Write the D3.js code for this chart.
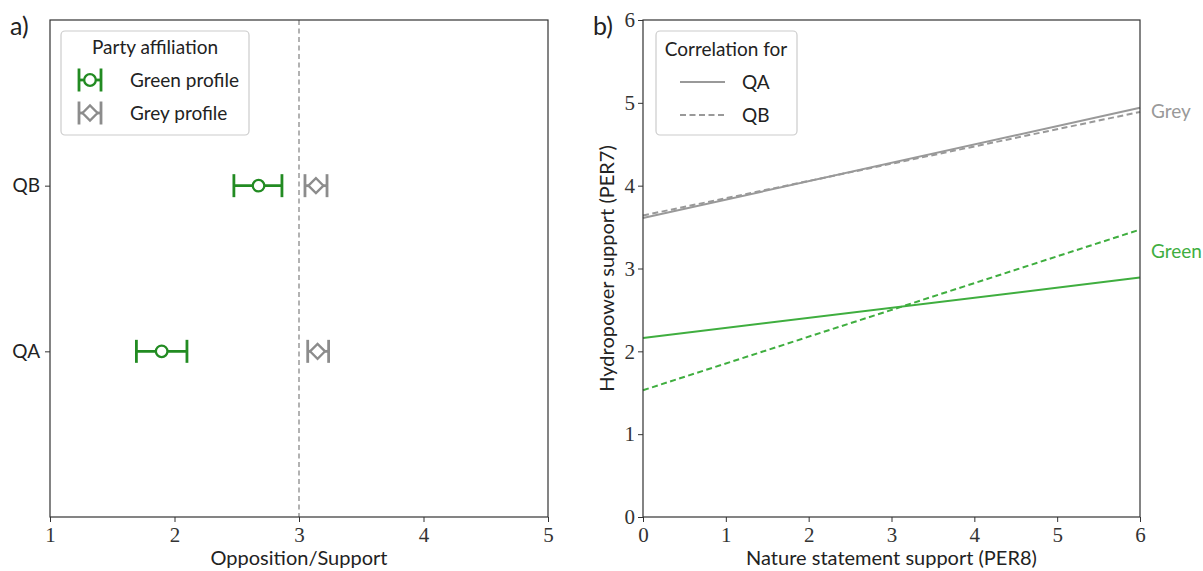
<!DOCTYPE html>
<html><head><meta charset="utf-8">
<script src="https://cdn.jsdelivr.net/npm/d3@7"></script>
<style>
body{margin:0;background:#fff;}
svg text{fill:#222;}
.sans{font-family:Lato,"DejaVu Sans",sans-serif;}
.serif{font-family:"Liberation Serif","DejaVu Serif",serif;}
</style></head><body>
<svg id="c" width="1203" height="571"></svg>
<script>
// ---- data ----
const questions = ["QA","QB"];
const profiles = ["Green profile","Grey profile"];
const greenMean = [1.897, 2.675];
const greenLow  = [1.694, 2.477];
const greenHigh = [2.100, 2.863];
const greyMean  = [3.149, 3.136];
const greyLow   = [3.070, 3.048];
const greyHigh  = [3.238, 3.225];
const leftTicks = [1,2,3,4,5];
const neutral = 3;

const lineX = [0, 6];
const greenQA = [2.16, 2.89];
const greenQB = [1.53, 3.47];
const greyQA  = [3.61, 4.94];
const greyQB  = [3.64, 4.89];
const rightXTicks = [0,1,2,3,4,5,6];
const rightYTicks = [0,1,2,3,4,5,6];

const svg = d3.select("#c");
const darkGreen = "#228b22", lightGreen = "#3fae3f", greyC = "#8c8c8c", greyL = "#999999";
const axisColor = "#333";

function styleAxis(g){
  g.selectAll("path.domain").remove();
  g.selectAll(".tick line").attr("stroke",axisColor).attr("stroke-width",1);
  g.selectAll(".tick text").attr("class","serif").style("font-size","21px").style("fill","#333");
}

// ---- Panel a ----
const L = {x0:50, x1:548, y0:20, y1:517};
const xa = d3.scaleLinear().domain([1,5]).range([L.x0,L.x1]);
const ya = d3.scaleLinear().domain([-1,2]).range([L.y1,L.y0]);
const ga = svg.append("g");

ga.append("line").attr("x1",xa(neutral)).attr("x2",xa(neutral)).attr("y1",L.y0).attr("y2",L.y1)
  .attr("stroke","#999").attr("stroke-width",1.5).attr("stroke-dasharray","5,3.5");

const axB = ga.append("g").attr("transform",`translate(0,${L.y1})`).call(d3.axisBottom(xa).tickValues(leftTicks).tickFormat(d3.format("d")).tickSize(5).tickPadding(5));
styleAxis(axB);
const axL = ga.append("g").attr("transform",`translate(${L.x0},0)`).call(d3.axisLeft(ya).tickValues([0,1]).tickFormat(i=>questions[i]).tickSize(5).tickPadding(5));
styleAxis(axL);
axL.selectAll(".tick text").attr("class","sans").style("font-size","19px").style("fill","#222");
ga.append("rect").attr("x",L.x0).attr("y",L.y0).attr("width",L.x1-L.x0).attr("height",L.y1-L.y0)
  .attr("fill","none").attr("stroke",axisColor).attr("stroke-width",1.2);

function errbar(g, xs, y, lo, hi, color, sw, cap){
  g.append("line").attr("x1",xs(lo)).attr("x2",xs(hi)).attr("y1",y).attr("y2",y).attr("stroke",color).attr("stroke-width",sw);
  [lo,hi].forEach(v=>g.append("line").attr("x1",xs(v)).attr("x2",xs(v)).attr("y1",y-cap).attr("y2",y+cap).attr("stroke",color).attr("stroke-width",sw));
}
questions.forEach((q,i)=>{
  const y = ya(i);
  errbar(ga, xa, y, greenLow[i], greenHigh[i], darkGreen, 2.8, 11.5);
  ga.append("circle").attr("cx",xa(greenMean[i])).attr("cy",y).attr("r",5.8).attr("fill","#fff").attr("stroke",darkGreen).attr("stroke-width",2.3);
  errbar(ga, xa, y, greyLow[i], greyHigh[i], greyC, 2.8, 11.5);
  const cx = xa(greyMean[i]);
  ga.append("path").attr("d",`M${cx-7.5},${y}L${cx},${y-7.5}L${cx+7.5},${y}L${cx},${y+7.5}Z`).attr("fill","#fff").attr("stroke",greyC).attr("stroke-width",2.3);
});

ga.append("text").attr("class","sans").attr("x",(L.x0+L.x1)/2).attr("y",565).attr("text-anchor","middle").style("font-size","20px").text("Opposition/Support");
ga.append("text").attr("class","sans").attr("x",10).attr("y",35).style("font-size","25px").text("a)");

// legend a
const lgA = ga.append("g");
lgA.append("rect").attr("x",61).attr("y",31).attr("width",188).attr("height",104).attr("rx",4)
  .attr("fill","#fff").attr("stroke","#ccc").attr("stroke-width",1.2);
lgA.append("text").attr("class","sans").attr("x",155).attr("y",54).attr("text-anchor","middle").style("font-size","19px").text("Party affiliation");
[[darkGreen,"circle"],[greyC,"diamond"]].forEach(([c,m],k)=>{
  const y = 80 + k*33, cx = 90;
  const xs = d3.scaleLinear().domain([0,1]).range([cx-11,cx+11]);
  errbar(lgA, xs, y, 0, 1, c, 2.8, 11.5);
  if(m==="circle") lgA.append("circle").attr("cx",cx).attr("cy",y).attr("r",5.8).attr("fill","#fff").attr("stroke",c).attr("stroke-width",2.3);
  else lgA.append("path").attr("d",`M${cx-7.5},${y}L${cx},${y-7.5}L${cx+7.5},${y}L${cx},${y+7.5}Z`).attr("fill","#fff").attr("stroke",c).attr("stroke-width",2.3);
  lgA.append("text").attr("class","sans").attr("x",130).attr("y",y+6.5).style("font-size","19px").text(profiles[k]);
});

// ---- Panel b ----
const R = {x0:643, x1:1140, y0:20, y1:517};
const xb = d3.scaleLinear().domain([0,6]).range([R.x0,R.x1]);
const yb = d3.scaleLinear().domain([0,6]).range([R.y1,R.y0]);
const gb = svg.append("g");
const axBB = gb.append("g").attr("transform",`translate(0,${R.y1})`).call(d3.axisBottom(xb).tickValues(rightXTicks).tickFormat(d3.format("d")).tickSize(5).tickPadding(5));
styleAxis(axBB);
const axBL = gb.append("g").attr("transform",`translate(${R.x0},0)`).call(d3.axisLeft(yb).tickValues(rightYTicks).tickFormat(d3.format("d")).tickSize(5).tickPadding(3));
styleAxis(axBL);

const line = d3.line().x(d=>xb(d[0])).y(d=>yb(d[1]));
const series = [
  {v:greyQA, c:greyL, dash:null},
  {v:greyQB, c:greyL, dash:"6,3.5"},
  {v:greenQA, c:lightGreen, dash:null},
  {v:greenQB, c:lightGreen, dash:"6,3.5"}
];
series.forEach(s=>{
  gb.append("path").datum(lineX.map((x,i)=>[x,s.v[i]])).attr("d",line).attr("fill","none")
    .attr("stroke",s.c).attr("stroke-width",2).attr("stroke-dasharray",s.dash);
});
gb.append("rect").attr("x",R.x0).attr("y",R.y0).attr("width",R.x1-R.x0).attr("height",R.y1-R.y0)
  .attr("fill","none").attr("stroke",axisColor).attr("stroke-width",1.2);

gb.append("text").attr("class","sans").attr("x",1151).attr("y",118).style("font-size","19px").style("fill",greyL).text("Grey");
gb.append("text").attr("class","sans").attr("x",1151).attr("y",258).style("font-size","19px").style("fill",lightGreen).text("Green");

gb.append("text").attr("class","sans").attr("x",(R.x0+R.x1)/2).attr("y",565).attr("text-anchor","middle").style("font-size","20px").text("Nature statement support (PER8)");
gb.append("text").attr("class","sans").attr("transform",`translate(614,${(R.y0+R.y1)/2}) rotate(-90)`).attr("text-anchor","middle").style("font-size","20px").text("Hydropower support (PER7)");
gb.append("text").attr("class","sans").attr("x",593).attr("y",35).style("font-size","25px").text("b)");

const lgB = gb.append("g");
lgB.append("rect").attr("x",656).attr("y",31).attr("width",141).attr("height",104).attr("rx",4)
  .attr("fill","#fff").attr("stroke","#ccc").attr("stroke-width",1.2);
lgB.append("text").attr("class","sans").attr("x",726).attr("y",56).attr("text-anchor","middle").style("font-size","19px").text("Correlation for");
questions.forEach((q,k)=>{
  const y = 82 + k*33;
  lgB.append("line").attr("x1",680).attr("x2",725).attr("y1",y).attr("y2",y).attr("stroke",greyL).attr("stroke-width",2)
    .attr("stroke-dasharray",k?"6,3.5":null);
  lgB.append("text").attr("class","sans").attr("x",742).attr("y",y+7).style("font-size","19px").text(q);
});
</script></body></html>
